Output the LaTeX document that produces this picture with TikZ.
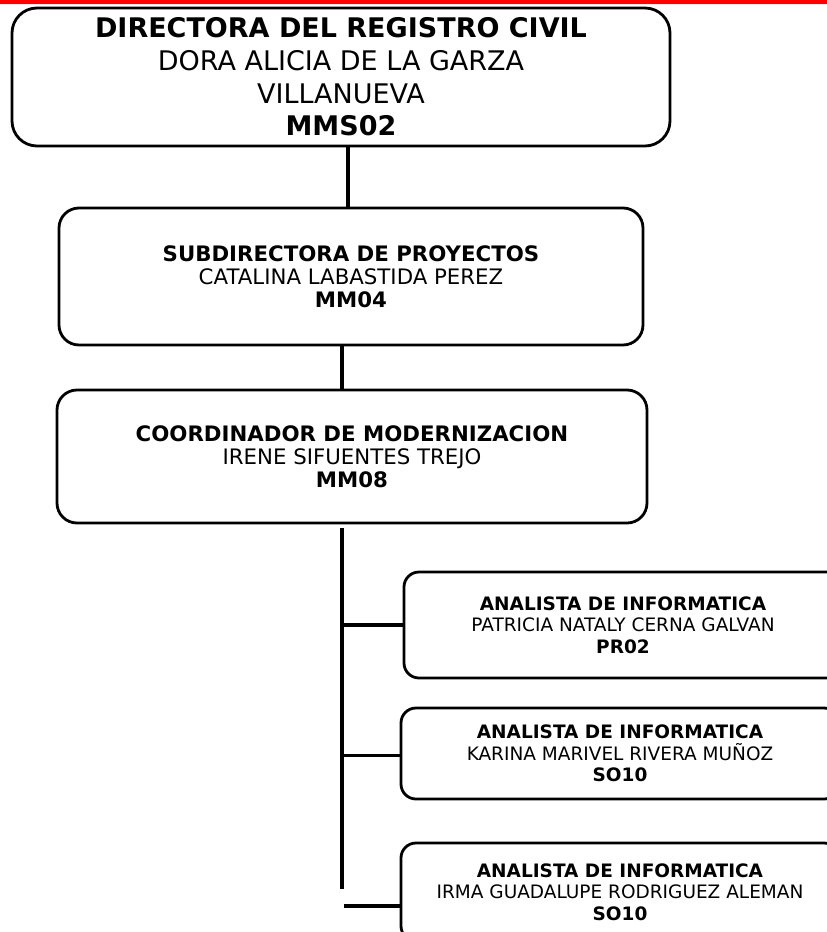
\documentclass[tikz,border=0pt]{standalone}
\usepackage{fontspec}
\setmainfont{DejaVu Sans}
\usetikzlibrary{positioning}
\tikzstyle{organigrama}=[x=1pt, y=-1pt, line width=2.8pt]
\tikzstyle{puesto}=[draw, rounded corners=20pt, align=center, inner sep=0pt, font=\fontsize{21.3}{23}\selectfont]
\tikzstyle{analista}=[puesto, rounded corners=15pt, minimum width=438pt, font=\fontsize{18.5}{21.5}\selectfont]
\tikzstyle{liga}=[line width=3.2pt]

\begin{document}
\begin{tikzpicture}[organigrama]
  \useasboundingbox (0,0) rectangle (827,932);
  \clip (0,0) rectangle (827,932);
  \fill[red] (0,0) rectangle (827,3.5);
  \node[puesto, rounded corners=25pt, minimum width=658pt, minimum height=138pt, font=\fontsize{27}{32.6}\selectfont] (0) at (341,77)
    {\textbf{DIRECTORA DEL REGISTRO CIVIL}\\DORA ALICIA DE LA GARZA\\VILLANUEVA\\\textbf{MMS02}};
  \node[puesto, minimum width=584pt, minimum height=137pt] (1) at (351,276.5)
    {\textbf{SUBDIRECTORA DE PROYECTOS}\\CATALINA LABASTIDA PEREZ\\\textbf{MM04}};
  \node[puesto, minimum width=590pt, minimum height=133pt] (2) at (352,456.5)
    {\textbf{COORDINADOR DE MODERNIZACION}\\IRENE SIFUENTES TREJO\\\textbf{MM08}};
  \node[analista, minimum height=106pt] (3) at (623,625)
    {\textbf{ANALISTA DE INFORMATICA}\\PATRICIA NATALY CERNA GALVAN\\\textbf{PR02}};
  \node[analista, minimum height=91pt] (4) at (620,753.5)
    {\textbf{ANALISTA DE INFORMATICA}\\KARINA MARIVEL RIVERA MUÑOZ\\\textbf{SO10}};
  \node[analista, minimum height=98pt] (5) at (620,892)
    {\textbf{ANALISTA DE INFORMATICA}\\IRMA GUADALUPE RODRIGUEZ ALEMAN\\\textbf{SO10}};
  % lineas
  \coordinate (t) at (342,889);
  \coordinate (r) at ([yshift=-14pt]5.west);
  \draw[liga] ([xshift=7pt]0.south) -- ([xshift=-3pt]1.north);
  \draw[liga] ([xshift=-9pt]1.south) -- ([xshift=-10pt]2.north);
  \draw[liga] ([xshift=-10pt,yshift=-4pt]2.south) -- (t);
  \draw[liga] (3.west -| t) -- (3.west);
  \draw[liga] ([yshift=-2pt]4.west -| t) -- ([yshift=-2pt]4.west);
  \draw[liga] ([xshift=2pt]r -| t) -- (r);
\end{tikzpicture}
\end{document}
